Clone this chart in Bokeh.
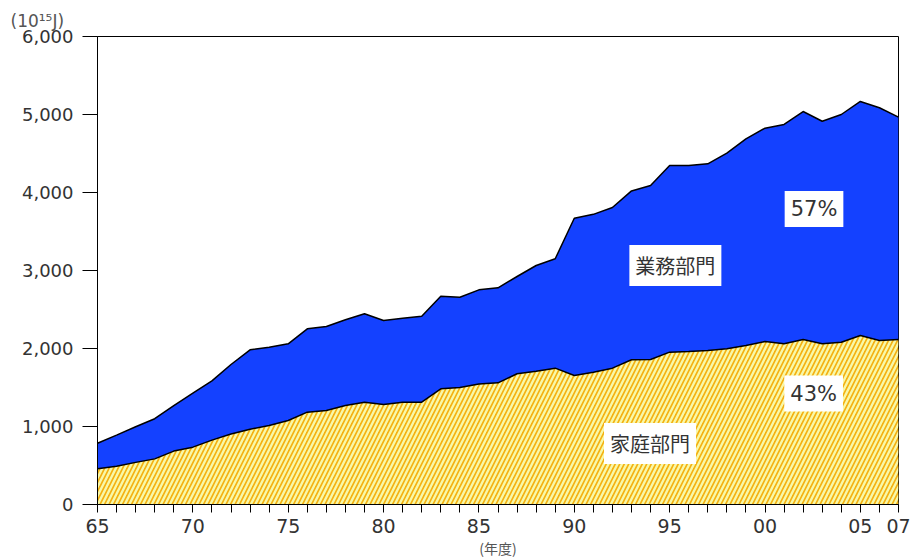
from bokeh.plotting import figure
from bokeh.models import FixedTicker, NumeralTickFormatter, Label, Range1d
from bokeh.embed import file_html
from bokeh.resources import INLINE
import numpy as np

years = list(range(1965, 2008))
household = [457, 490, 540, 585, 685, 735, 825, 903, 965, 1013, 1077, 1184, 1205, 1269, 1312,
             1282, 1312, 1312, 1483, 1500, 1545, 1560, 1676, 1709, 1748, 1654, 1696, 1748, 1855,
             1859, 1953, 1962, 1974, 1996, 2038, 2090, 2060, 2115, 2060, 2081, 2167, 2103, 2115]
business = [329, 399, 456, 515, 584, 692, 760, 892, 1018, 1004, 983, 1068, 1077, 1099, 1133,
            1077, 1077, 1102, 1188, 1158, 1207, 1218, 1247, 1355, 1402, 2016, 2024, 2060, 2165,
            2231, 2393, 2384, 2394, 2508, 2650, 2735, 2812, 2923, 2854, 2919, 3000, 2983, 2851]
x_label_years = {1965: "65", 1970: "70", 1975: "75", 1980: "80", 1985: "85", 1990: "90",
                 1995: "95", 2000: "00", 2005: "05", 2007: "07"}
y_ticks = [0, 1000, 2000, 3000, 4000, 5000, 6000]
unit_text = "(10¹⁵J)"
xaxis_text = "(年度)"
series_labels = ["家庭部門", "業務部門"]
share_labels = ["43%", "57%"]

hh = np.array(household, dtype=float)
total = hh + np.array(business, dtype=float)

p = figure(width=915, height=560, output_backend="svg", toolbar_location=None,
           min_border_left=97, min_border_right=17, min_border_top=36, min_border_bottom=56,
           x_range=Range1d(1965, 2007), y_range=Range1d(0, 6000))
p.outline_line_color = "black"
p.outline_line_width = 1
p.xgrid.visible = False
p.ygrid.visible = False
p.background_fill_color = "white"

# title used as unit label
p.title.text = unit_text
p.title.align = "left"
p.title.offset = -87
p.title.text_font = "DejaVu Sans"
p.title.text_font_size = "17px"
p.title.text_font_style = "normal"
p.title.text_color = "#555555"
p.title.standoff = 12

# areas
p.varea(x=years, y1=0, y2=hh, fill_color="#F4B010",
        hatch_pattern="/", hatch_color="#F8F8A8", hatch_scale=9, hatch_weight=2.4)
p.varea(x=years, y1=hh, y2=total, fill_color="#1441FF")
p.line(years, hh, line_color="black", line_width=1.5)
p.line(years, total, line_color="black", line_width=1.5)

# axes
p.xaxis.ticker = FixedTicker(ticks=years)
p.xaxis.major_label_overrides = {y: x_label_years.get(y, "") for y in years}
p.xaxis.major_tick_out = 8
p.xaxis.major_tick_in = 0
p.xaxis.minor_tick_line_color = None
p.xaxis.major_label_text_font = "DejaVu Sans"
p.xaxis.major_label_text_font_size = "19px"
p.xaxis.major_label_text_color = "#333333"
p.xaxis.major_label_standoff = 6
p.xaxis.axis_line_color = "black"
p.xaxis.axis_label = xaxis_text
p.xaxis.axis_label_text_font = "Noto Sans CJK JP"
p.xaxis.axis_label_text_font_size = "14px"
p.xaxis.axis_label_text_font_style = "normal"
p.xaxis.axis_label_text_color = "#555555"
p.xaxis.axis_label_standoff = 2

p.yaxis.ticker = FixedTicker(ticks=y_ticks)
p.yaxis.formatter = NumeralTickFormatter(format="0,0")
p.yaxis.major_tick_out = 15
p.yaxis.major_tick_in = 0
p.yaxis.minor_tick_line_color = None
p.yaxis.major_label_text_font = "DejaVu Sans"
p.yaxis.major_label_text_font_size = "18px"
p.yaxis.major_label_text_color = "#333333"
p.yaxis.major_label_standoff = 9
p.yaxis.axis_line_color = "black"

# boxed labels
def box_label(x, y, text, font, size):
    p.add_layout(Label(x=x, y=y, text=text, text_font=font, text_font_size=size,
                       text_color="#333333", text_align="center", text_baseline="middle",
                       background_fill_color="white", padding=6))

box_label(1995.3, 3064, series_labels[1], "Noto Sans CJK JP", "20px")
box_label(1993.97, 782, series_labels[0], "Noto Sans CJK JP", "20px")
box_label(2002.57, 3788, share_labels[1], "DejaVu Sans", "21px")
box_label(2002.55, 1423, share_labels[0], "DejaVu Sans", "21px")

open("out.html", "w").write(file_html(p, INLINE))
